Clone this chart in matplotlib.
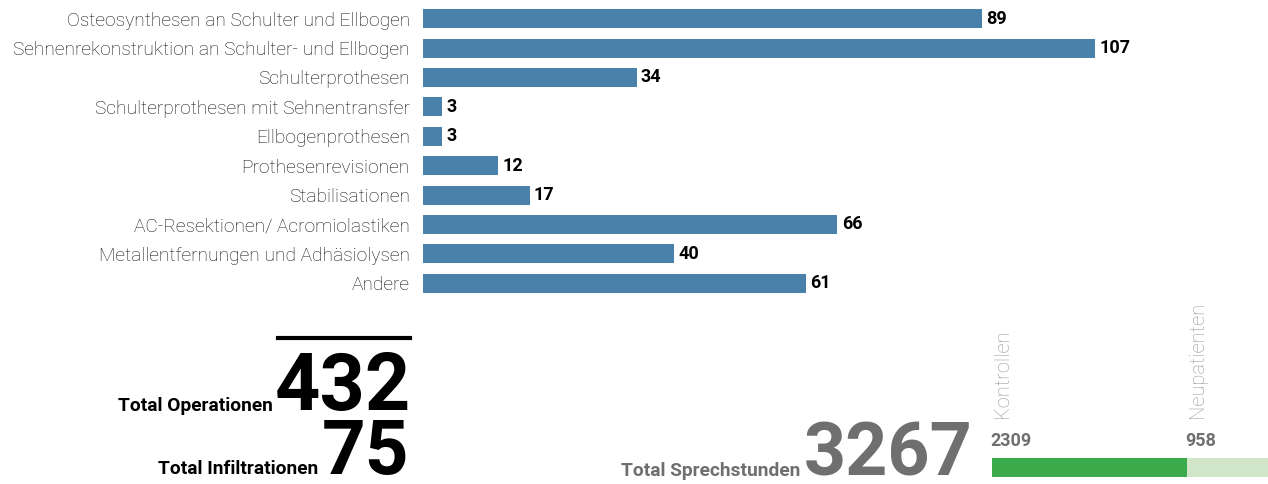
import numpy as np
import matplotlib.pyplot as plt

plt.rcParams['font.family'] = ['Roboto', 'DejaVu Sans']

# Operationen nach Art
categories = [
    'Osteosynthesen an Schulter und Ellbogen',
    'Sehnenrekonstruktion an Schulter- und Ellbogen',
    'Schulterprothesen',
    'Schulterprothesen mit Sehnentransfer',
    'Ellbogenprothesen',
    'Prothesenrevisionen',
    'Stabilisationen',
    'AC-Resektionen/ Acromiolastiken',
    'Metallentfernungen und Adhäsiolysen',
    'Andere',
]
counts = [89, 107, 34, 3, 3, 12, 17, 66, 40, 61]

infiltrationen = 75

# Sprechstunden
visit_labels = ['Kontrollen', 'Neupatienten']
visit_counts = [2309, 958]

W, H = 1268, 484
BLUE = '#4a81ab'
GREY = '#6f6f6f'


def fx(x):
    return x / W


def fy(y):
    return 1 - y / H


fig = plt.figure(figsize=(W / 100, H / 100), dpi=100)

# --- Balkendiagramm ---
ax = fig.add_axes([fx(423), fy(298), fx(W - 423), (298 - 4) / H])
y = np.arange(len(categories))
ax.barh(y, counts, height=0.65, color=BLUE)
ax.set_xlim(0, (W - 423) / 6.28)
ax.set_ylim(len(categories) - 0.5, -0.5)
ax.set_yticks(y)
ax.set_yticklabels(categories, fontsize=13.8, fontweight='light', color='#111111')
ax.tick_params(axis='y', length=0, pad=9.5)
ax.set_xticks([])
for s in ax.spines.values():
    s.set_visible(False)
for i, v in enumerate(counts):
    ax.annotate(str(v), (v, i), xytext=(3, 0), textcoords='offset points',
                va='center', ha='left', fontsize=13, fontweight='bold', color='black')

# --- Totale Operationen / Infiltrationen ---
total_ops = sum(counts)
fig.add_artist(plt.Line2D([fx(278), fx(410)], [fy(338), fy(338)], color='black', lw=3))
fig.text(fx(411), fy(410), str(total_ops), ha='right', va='baseline',
         fontsize=57, fontweight='bold', color='black')
fig.text(fx(273), fy(411), 'Total Operationen', ha='right', va='baseline',
         fontsize=13.8, fontweight='bold', color='black')
fig.text(fx(409), fy(474), str(infiltrationen), ha='right', va='baseline',
         fontsize=55, fontweight='bold', color='black')
fig.text(fx(318), fy(474), 'Total Infiltrationen', ha='right', va='baseline',
         fontsize=13.8, fontweight='bold', color='black')

# --- Sprechstunden ---
total_visits = sum(visit_counts)
fig.text(fx(973), fy(475), str(total_visits), ha='right', va='baseline',
         fontsize=53, fontweight='bold', color=GREY)
fig.text(fx(800), fy(476), 'Total Sprechstunden', ha='right', va='baseline',
         fontsize=13.8, fontweight='bold', color=GREY)

bx = fig.add_axes([fx(992), fy(477), fx(W - 992), 19 / H])
bx.barh([0], [visit_counts[0]], height=1, color='#3aaa4a')
bx.barh([0], [visit_counts[1]], left=visit_counts[0], height=1, color='#d1e5c9')
bx.set_xlim(0, total_visits)
bx.set_ylim(-0.5, 0.5)
bx.axis('off')

starts = [0, visit_counts[0]]
for lab, v, s in zip(visit_labels, visit_counts, starts):
    xpix = 992 + 276 * s / total_visits
    fig.text(fx(xpix - 2), fy(446), str(v), ha='left', va='baseline',
             fontsize=13, fontweight='bold', color=GREY)
    fig.text(fx(xpix + 1), fy(418), lab, ha='left', va='bottom', rotation=90,
             fontsize=14.5, fontweight='light', color='#999999')

fig.savefig('out.png', dpi=100)
